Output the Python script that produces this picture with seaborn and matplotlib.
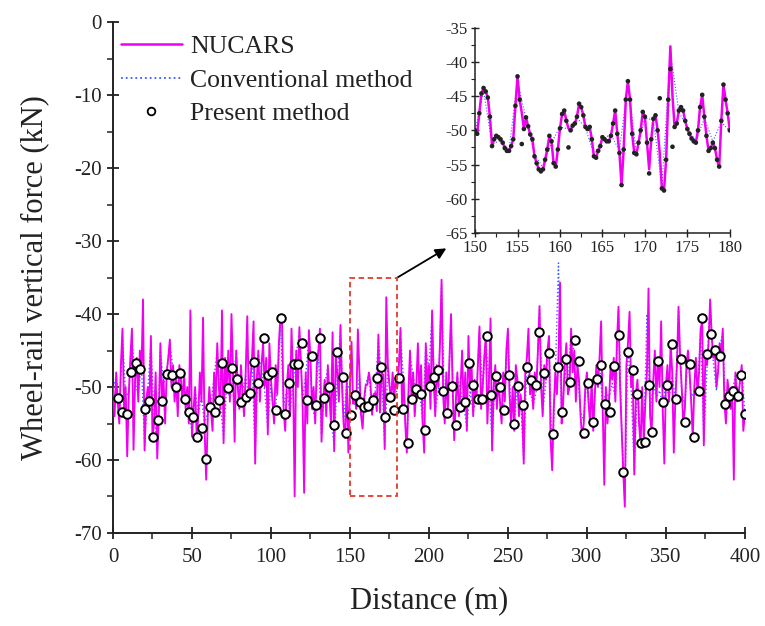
import numpy as np
import pandas as pd
import matplotlib
matplotlib.use("Agg")
import matplotlib.pyplot as plt
import seaborn as sns
from matplotlib.ticker import MultipleLocator
from matplotlib.patches import Rectangle
from matplotlib.lines import Line2D

sns.set_style("ticks")
plt.rcParams["font.family"] = ["Liberation Serif", "DejaVu Serif"]
plt.rcParams["axes.unicode_minus"] = False

# ---------------- data ----------------
distance_main = np.arange(0, 401, 1)  # m
nucars_main = [
    -50, -54, -48, -52, -55, -47, -42, -53, -50, -59.5,
    -51, -46, -42, -58.6, -49, -46, -52, -45, -48, -38,
    -58.7, -52, -50, -53, -43, -57, -55, -48, -59.8, -54,
    -44, -52, -49, -55, -48, -46, -43.5, -50, -47, -52,
    -49, -54, -47, -49, -52, -48, -53, -50, -55, -39.5,
    -56.8, -53, -50, -57, -54, -48, -52, -40.5, -56, -62.7,
    -54, -50, -53, -56, -48, -52, -44, -50, -53, -39.5,
    -57.7, -46, -50, -45, -52, -40, -48, -57.5, -45, -50,
    -53, -47, -51, -54, -48, -40.3, -52, -49, -46, -41,
    -60.5, -49, -45, -52, -47, -44, -50, -46, -56.5, -44,
    -49, -52, -55, -47, -51, -44, -40.5, -41, -53, -56,
    -50, -47, -54, -42, -49, -65, -45, -50, -41.8, -47,
    -52, -64.5, -48, -55, -42.2, -46, -53, -50, -55, -47,
    -45, -42, -57.5, -52, -49, -54, -47, -51, -55, -42.5,
    -58.8, -46, -48, -52, -41.5, -50, -55, -57, -49, -59,
    -50, -43.8, -52.3, -51.3, -53, -42.1, -48.1, -53.8, -55.7, -51.6,
    -49.7, -49.7, -48, -49.5, -53.8, -51, -50.8, -53.3, -42.8, -53.5,
    -48, -48.3, -58.5, -37.7, -47.1, -49.8, -51.8, -48, -51.8, -48.6,
    -50, -47, -41.9, -53, -49, -55, -59, -51, -45, -52,
    -48, -54, -50, -44, -51, -47, -55, -59, -44, -50,
    -47, -53, -39.5, -49, -54, -47, -50, -44, -35.3, -51,
    -55, -48, -53, -46, -40, -50, -57.3, -52, -48, -54,
    -50, -45, -53, -48, -56, -43, -50, -47, -54, -49,
    -52, -47, -41.7, -53, -50, -46, -43, -55, -49, -40.6,
    -58.7, -50, -47, -53, -49, -52, -55, -48, -52, -45,
    -42, -51, -55, -50, -56, -47, -49, -54, -51, -53,
    -60.5, -48, -46, -42, -51, -49, -53, -48, -50, -45,
    -38.9, -50, -54, -47, -49, -45, -43, -57, -61.4, -53,
    -48, -51, -46, -35.7, -55, -52, -47, -44, -51, -50,
    -42, -48, -45, -52, -47, -49, -54, -57, -55, -50,
    -48, -52, -55, -49, -56, -51, -47, -50, -46, -41,
    -53, -63.4, -50, -55, -52, -47, -49, -46, -52, -44,
    -39, -50, -56, -61.6, -66.4, -47, -44, -39.7, -50, -48,
    -62, -51, -49, -55, -58, -50, -57.6, -52, -48, -36.5,
    -54, -56.2, -49, -45, -52, -46, -50, -41, -53, -60.5,
    -49.7, -47, -52, -44, -48, -59, -51.7, -47, -39, -46,
    -50, -55, -53, -47, -45, -48, -52, -57, -50, -46,
    -51, -48, -42, -41, -58, -45, -47, -44, -38, -43,
    -46, -45, -50, -48, -44, -46, -42, -52, -55, -49,
    -51, -53, -50, -62.7, -48, -52, -51, -49, -47, -56,
    -53.7,
]

conv_distance = np.arange(0, 401, 2)  # m
conv_main = [
    -50.5, -48.5, -54, -43, -51,
    -51, -43, -49.5, -51, -47,
    -58, -50.5, -44, -54, -58,
    -45, -49.5, -48, -44, -47.5,
    -49.5, -47.5, -51.5, -52.5, -54,
    -56, -50.5, -53.5, -51.5, -55,
    -53.5, -52.5, -48.5, -45, -52.5,
    -57, -49.5, -51.5, -48.5, -45.5,
    -52.5, -50.5, -48.5, -51.5, -46.5,
    -59.5, -45.5, -47.5, -50.5, -55.5,
    -49.5, -54.5, -50.5, -41.5, -52.5,
    -50.5, -53.5, -49.5, -45.5, -42.5,
    -51.5, -48.5, -43, -52.5, -54.5,
    -45.5, -56.5, -49.5, -47.5, -54.5,
    -58, -48.5, -42, -54.5, -49.5,
    -50.3, -52, -52.7, -48.5, -55.3,
    -49.5, -48.3, -53.5, -50.6, -43.5,
    -48.2, -58, -47.4, -51.5, -51.6,
    -50.3, -42.5, -49.5, -58.3, -45.5,
    -48.5, -50.5, -50.5, -54.5, -44.5,
    -47.5, -40, -53.5, -50.3, -36,
    -54.5, -52.5, -40.5, -56.5, -48.5,
    -50.5, -52.5, -55.5, -50.5, -53.5,
    -51.5, -42.5, -50.5, -43.5, -49.5,
    -58, -47.5, -49.5, -54.5, -51.5,
    -42.5, -54.5, -55.5, -49.5, -51.5,
    -60, -46.5, -50.5, -52.5, -50.5,
    -39.5, -53.5, -49.5, -43.5, -60.5,
    -48.5, -33, -54.5, -47.5, -50.5,
    -42.5, -45.5, -47.5, -53.5, -54.5,
    -48.5, -54.5, -55.5, -47.5, -46.5,
    -53, -50.5, -51.5, -49.5, -51.5,
    -39.5, -55.5, -65.5, -44.5, -50,
    -61.5, -49.5, -57.5, -57, -40,
    -53.5, -49.5, -51.5, -50.5, -52.5,
    -49.5, -51.5, -48.5, -51.5, -39.5,
    -50.5, -52.5, -45.5, -51.5, -50.5,
    -50.5, -42.5, -57.5, -47.5, -38.5,
    -46.5, -50.5, -44.5, -42.5, -54.5,
    -50.5, -50.5, -48.5, -51, -47.5,
    -53.5,
]

present_distance = [
    3.2, 5.7, 8.9, 11.6, 14.7, 17.3, 20.0, 22.6, 25.5, 28.7,
    31.2, 34.4, 37.1, 39.9, 42.4, 45.6, 48.2, 50.9, 53.4, 56.6,
    58.7, 61.4, 64.6, 67.3, 69.2, 73.0, 75.5, 78.3, 81.0, 84.0,
    86.7, 89.4, 91.9, 95.6, 97.9, 100.8, 103.2, 106.1, 108.9, 111.4,
    114.6, 117.3, 119.8, 122.6, 125.7, 128.5, 131.2, 133.7, 136.5, 139.7,
    141.8, 145.4, 147.5, 150.6, 153.4, 156.1, 158.7, 161.4, 164.4, 167.1,
    169.8, 172.3, 175.1, 178.1, 181.2, 183.5, 186.5, 189.2, 192.0, 194.9,
    197.7, 200.4, 202.9, 205.9, 208.9, 211.6, 214.4, 217.3, 219.6, 222.6,
    225.3, 228.0, 231.2, 233.7, 236.5, 239.0, 242.2, 244.7, 247.5, 250.6,
    253.8, 256.5, 259.3, 261.8, 264.6, 267.5, 269.8, 273.1, 275.8, 278.6,
    281.5, 284.3, 287.0, 289.6, 292.4, 295.3, 298.1, 300.8, 304.0, 306.5,
    309.0, 311.7, 314.4, 317.4, 320.2, 322.9, 325.9, 329.0, 331.5, 334.0,
    336.8, 339.4, 341.5, 345.0, 348.2, 350.7, 353.9, 356.6, 359.4, 361.9,
    365.1, 367.8, 370.8, 373.1, 376.1, 378.8, 381.3, 384.5, 387.2, 390.0,
    392.5, 395.7, 397.8, 399.8,
]
present_force = [
    -51.5, -53.4, -53.7, -47.9, -46.7, -47.5, -53.0, -51.9, -56.8, -54.5,
    -51.9, -48.2, -48.4, -50.0, -48.1, -51.6, -53.4, -54.1, -56.8, -55.6,
    -59.9, -52.7, -53.4, -51.8, -46.7, -50.1, -47.4, -48.9, -52.1, -51.3,
    -50.8, -46.6, -49.4, -43.3, -48.4, -48.0, -53.2, -40.5, -53.7, -49.4,
    -46.8, -46.9, -43.9, -51.8, -45.7, -52.5, -43.3, -51.5, -50.0, -55.2,
    -45.2, -48.6, -56.3, -53.8, -51.1, -52.1, -52.7, -52.6, -51.8, -48.7,
    -47.2, -54.1, -51.3, -53.2, -48.7, -53.0, -57.7, -51.6, -50.3, -50.9,
    -55.9, -49.9, -48.6, -47.7, -50.6, -53.5, -49.9, -55.2, -52.8, -52.0,
    -46.7, -49.7, -51.6, -51.6, -43.0, -51.1, -48.5, -50.0, -53.2, -48.4,
    -55.1, -49.9, -52.4, -47.2, -49.0, -49.7, -42.5, -48.1, -45.4, -56.5,
    -47.2, -53.4, -46.1, -49.3, -43.6, -46.5, -56.3, -49.5, -54.8, -48.9,
    -47.0, -52.3, -53.4, -47.1, -42.9, -61.6, -45.2, -47.7, -51.0, -57.7,
    -57.6, -49.7, -56.2, -46.5, -52.0, -49.7, -44.1, -51.7, -46.2, -54.8,
    -46.8, -56.9, -50.6, -40.6, -45.5, -42.8, -44.9, -45.8, -52.3, -51.2,
    -50.5, -51.2, -48.4, -53.7,
]

# zoomed window 150-180 m, 0.25 m sampling
inset_distance = np.arange(150, 180.001, 0.25)
inset_nucars = [
    -50, -50.5, -47.5, -44.6,
    -43.8, -44.3, -45.2, -48,
    -52.3, -51.3, -50.8, -51,
    -51.3, -51.8, -52.6, -53,
    -53, -52.3, -51.3, -46.4,
    -42.1, -45.5, -47.4, -49.8,
    -48.1, -49.4, -50.6, -51.3,
    -53.8, -54.8, -55.7, -56,
    -55.7, -54.3, -52.8, -50.8,
    -51.6, -54.8, -55.3, -52.8,
    -49.7, -47.6, -47.1, -48.6,
    -49.7, -50, -49.3, -49,
    -48, -46.1, -46.6, -47.8,
    -49.5, -49.8, -49.5, -51.3,
    -53.8, -54, -53, -52.3,
    -51, -51.3, -51.6, -51.6,
    -50.8, -49, -47.1, -50.5,
    -53.3, -58, -52.8, -45.5,
    -42.8, -45.5, -50.5, -53.3,
    -53.5, -51.8, -50, -47.3,
    -48, -51.8, -55.7, -51.3,
    -48.3, -47.8, -50, -53.3,
    -58.5, -58.8, -54.3, -45.5,
    -37.7, -45, -49.5, -49,
    -47.1, -46.6, -47.1, -48.6,
    -49.8, -50.5, -51.2, -51.6,
    -51.8, -50, -46.6, -44.8,
    -48, -50.8, -53, -52.6,
    -51.8, -52.6, -54.3, -55.3,
    -48.6, -43.3, -45.5, -47.5,
    -50,
]
inset_present = [
    -50, -50.5, -47.5, -44.6,
    -43.8, -44.3, -45.2, -48,
    -52.3, -51.3, -50.8, -51,
    -51.3, -51.8, -52.6, -53,
    -53, -52.3, -51.3, -46.4,
    -42.1, -45.5, -52.0, -49.8,
    -48.1, -49.4, -50.6, -51.3,
    -53.8, -54.8, -55.7, -56,
    -55.7, -54.3, -52.8, -50.8,
    -51.6, -54.8, -55.3, -52.8,
    -49.7, -47.6, -47.1, -48.6,
    -52.5, -50, -49.3, -49,
    -48, -46.1, -46.6, -47.8,
    -49.5, -49.8, -49.5, -51.3,
    -53.8, -54, -53, -52.3,
    -51, -51.3, -51.6, -51.6,
    -50.8, -49, -47.1, -50.5,
    -53.3, -58, -52.8, -45.5,
    -42.8, -45.5, -50.5, -53.3,
    -53.5, -51.8, -50, -47.3,
    -48, -51.8, -56.3, -51.3,
    -48.3, -47.8, -50, -45.3,
    -58.5, -58.8, -54.3, -45.5,
    -41.0, -52.4, -49.5, -49,
    -47.1, -46.6, -47.1, -48.6,
    -49.8, -50.5, -51.2, -51.6,
    -51.8, -50, -46.6, -44.8,
    -48, -50.8, -53, -52.6,
    -51.8, -52.6, -54.3, -55.3,
    -48.6, -43.3, -45.5, -47.5,
    -50,
]
inset_conv_distance = np.arange(150, 181, 1)
inset_conv = [
    -50.2, -44.2, -52, -51.5, -52.8, -42.8, -48.3, -53.5, -55.5, -51.8,
    -49.5, -49.8, -48.2, -49.6, -53.6, -51.2, -50.6, -53, -43.2, -53.3,
    -48.2, -48.5, -58.2, -38.5, -47.3, -49.6, -51.6, -48.2, -51.6, -48.8,
    -50.1,
]

assert len(nucars_main) == len(distance_main)
assert len(conv_main) == len(conv_distance)
assert len(present_force) == len(present_distance)
assert len(inset_nucars) == len(inset_distance) == len(inset_present)
assert len(inset_conv) == len(inset_conv_distance)

df_main = pd.DataFrame({"d": distance_main, "f": nucars_main})
df_conv = pd.DataFrame({"d": conv_distance, "f": conv_main})
df_pres = pd.DataFrame({"d": present_distance, "f": present_force})
df_in = pd.DataFrame({"d": inset_distance, "f": inset_nucars, "p": inset_present})
df_inc = pd.DataFrame({"d": inset_conv_distance, "f": inset_conv})

MAG = "#f000f0"
BLUE = "#3d5cff"
INK = "#222222"

# ---------------- figure ----------------
fig = plt.figure(figsize=(7.65, 6.26), dpi=100)
ax = fig.add_axes([0.1477, 0.1486, 0.826, 0.816])

sns.lineplot(data=df_conv, x="d", y="f", ax=ax, color=BLUE, lw=1.0,
             linestyle=":", estimator=None, sort=False, zorder=2)
sns.lineplot(data=df_main, x="d", y="f", ax=ax, color=MAG, lw=1.35,
             estimator=None, sort=False, zorder=3)
sns.scatterplot(data=df_pres, x="d", y="f", ax=ax, marker="o", s=38,
                facecolor="white", edgecolor="black", linewidth=1.4, zorder=5)

ax.set_xlim(0, 400)
ax.set_ylim(-70, 0)
ax.xaxis.set_major_locator(MultipleLocator(50))
ax.xaxis.set_minor_locator(MultipleLocator(25))
ax.yaxis.set_major_locator(MultipleLocator(10))
ax.yaxis.set_minor_locator(MultipleLocator(5))
ax.tick_params(which="major", direction="inout", length=9, width=1.3,
               labelsize=15, color=INK, labelcolor=INK)
ax.tick_params(axis="x", which="major", pad=6)
ax.tick_params(which="minor", direction="out", length=4, width=1.1, color=INK)
for s in ("top", "right"):
    ax.spines[s].set_visible(False)
for s in ("left", "bottom"):
    ax.spines[s].set_linewidth(1.4)
    ax.spines[s].set_color(INK)
ax.set_xlabel("Distance (m)", fontsize=22, labelpad=14, color=INK)
ax.set_ylabel("Wheel-rail vertical force (kN)", fontsize=22, labelpad=18, color=INK)

# zoom window marker and arrow
ax.add_patch(Rectangle((150, -65), 30, 30, fill=False, edgecolor="#e23a2e",
                       lw=1.3, linestyle=(0, (3, 2)), zorder=6))
ax.annotate("", xy=(211, -31), xytext=(180, -35),
            arrowprops=dict(arrowstyle="-|>", color="black", lw=1.3,
                            mutation_scale=16, shrinkA=0, shrinkB=0))

# legend
handles = [
    Line2D([], [], color=MAG, lw=1.8),
    Line2D([], [], color=BLUE, lw=1.3, linestyle=":"),
    Line2D([], [], color="black", lw=0, marker="o", markersize=5.5,
           markerfacecolor="white", markeredgewidth=1.3),
]
ax.legend(handles, ["NUCARS", "Conventional method", "Present method"],
          loc="upper left", bbox_to_anchor=(0.012, 0.975), frameon=False,
          fontsize=18.5, handlelength=2.4, handletextpad=0.3,
          labelspacing=0.42, borderaxespad=0, borderpad=0, labelcolor=INK)

# inset
axi = fig.add_axes([0.621, 0.628, 0.333, 0.3275])
axi.set_facecolor("none")
sns.lineplot(data=df_inc, x="d", y="f", ax=axi, color=BLUE, lw=0.8,
             linestyle=":", estimator=None, sort=False, zorder=2)
sns.lineplot(data=df_in, x="d", y="f", ax=axi, color=MAG, lw=1.8,
             estimator=None, sort=False, zorder=3)
sns.scatterplot(data=df_in, x="d", y="p", ax=axi, marker="o", s=11,
                color="#222222", edgecolor="none", zorder=4)
axi.set_xlim(150, 180)
axi.set_ylim(-65, -35)
axi.xaxis.set_major_locator(MultipleLocator(5))
axi.xaxis.set_minor_locator(MultipleLocator(2.5))
axi.yaxis.set_major_locator(MultipleLocator(5))
axi.yaxis.set_minor_locator(MultipleLocator(2.5))
axi.tick_params(which="major", direction="inout", length=6, width=1.0,
                labelsize=12, pad=2, color=INK, labelcolor=INK)
axi.tick_params(which="minor", direction="out", length=3, width=0.8, color=INK)
for s in ("top", "right"):
    axi.spines[s].set_visible(False)
for s in ("left", "bottom"):
    axi.spines[s].set_linewidth(1.1)
    axi.spines[s].set_color(INK)
axi.set_xlabel("")
axi.set_ylabel("")

fig.savefig("out.png", dpi=100)
